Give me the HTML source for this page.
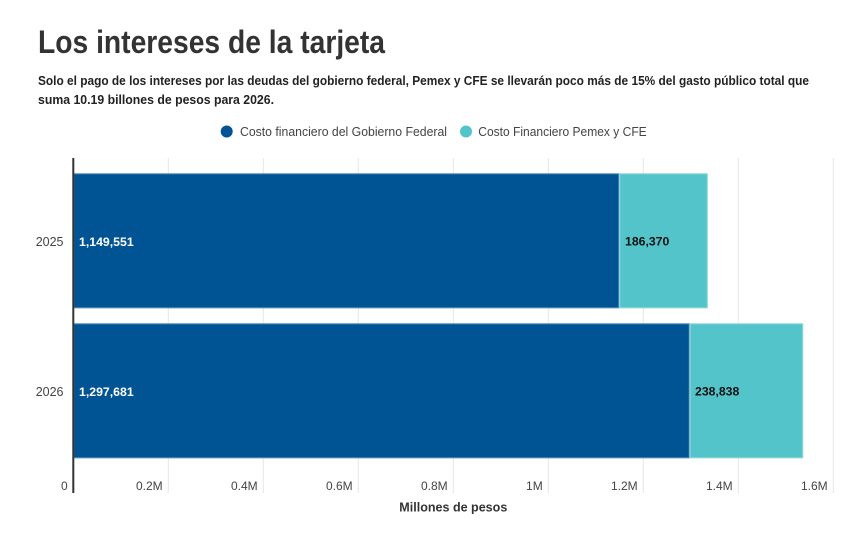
<!DOCTYPE html>
<html>
<head>
<meta charset="utf-8">
<style>
html,body{margin:0;padding:0;background:#fff;}
svg{display:block;}
text{font-family:"Liberation Sans",Arial,sans-serif;}
</style>
</head>
<body>
<svg width="847" height="542" viewBox="0 0 847 542" xmlns="http://www.w3.org/2000/svg">
  <rect width="847" height="542" fill="#fff"/>
  <!-- Title -->
  <text x="38" y="53" font-size="32" font-weight="bold" fill="#333" textLength="347" lengthAdjust="spacingAndGlyphs">Los intereses de la tarjeta</text>
  <!-- Subtitle -->
  <text x="38" y="85" font-size="12.5" font-weight="bold" fill="#222" textLength="771" lengthAdjust="spacingAndGlyphs">Solo el pago de los intereses por las deudas del gobierno federal, Pemex y CFE se llevarán poco más de 15% del gasto público total que</text>
  <text x="38" y="104" font-size="12.5" font-weight="bold" fill="#222" textLength="236" lengthAdjust="spacingAndGlyphs">suma 10.19 billones de pesos para 2026.</text>
  <!-- Legend -->
  <circle cx="226.7" cy="131.5" r="6" fill="#015494"/>
  <text x="240" y="136" font-size="13" fill="#444" textLength="207" lengthAdjust="spacingAndGlyphs">Costo financiero del Gobierno Federal</text>
  <circle cx="466" cy="131.5" r="6" fill="#54c4cb"/>
  <text x="478.3" y="136" font-size="13" fill="#444" textLength="168.4" lengthAdjust="spacingAndGlyphs">Costo Financiero Pemex y CFE</text>
  <!-- Gridlines -->
  <g stroke="#e6e6e6" stroke-width="1">
    <line x1="168.3" y1="158" x2="168.3" y2="493"/>
    <line x1="263.3" y1="158" x2="263.3" y2="493"/>
    <line x1="358.3" y1="158" x2="358.3" y2="493"/>
    <line x1="453.3" y1="158" x2="453.3" y2="493"/>
    <line x1="548.3" y1="158" x2="548.3" y2="493"/>
    <line x1="643.3" y1="158" x2="643.3" y2="493"/>
    <line x1="738.3" y1="158" x2="738.3" y2="493"/>
    <line x1="833.3" y1="158" x2="833.3" y2="493"/>
  </g>
  <!-- Bars 2025 -->
  <rect x="73.3" y="173.3" width="546" height="135" fill="#015494"/>
  <rect x="619.3" y="173.3" width="88.5" height="135" fill="#54c4cb"/>
  <!-- Bars 2026 -->
  <rect x="73.3" y="323.3" width="616.4" height="135" fill="#015494"/>
  <rect x="689.7" y="323.3" width="113.5" height="135" fill="#54c4cb"/>
  <!-- bar outlines (subtle) -->
  <g fill="none" stroke="#ffffff" stroke-opacity="0.35" stroke-width="1">
    <rect x="73.8" y="173.8" width="545" height="134"/>
    <rect x="619.8" y="173.8" width="87.5" height="134"/>
    <rect x="73.8" y="323.8" width="615.4" height="134"/>
    <rect x="690.2" y="323.8" width="112.5" height="134"/>
  </g>
  <!-- Axis line -->
  <line x1="73.3" y1="158" x2="73.3" y2="493" stroke="#333" stroke-width="2"/>
  <!-- Bar labels -->
  <text x="79" y="246" font-size="12" font-weight="bold" fill="#fff" textLength="54.7" lengthAdjust="spacingAndGlyphs">1,149,551</text>
  <text x="625" y="245.5" font-size="12" font-weight="bold" fill="#111" textLength="44.3" lengthAdjust="spacingAndGlyphs">186,370</text>
  <text x="79" y="396" font-size="12" font-weight="bold" fill="#fff" textLength="54.7" lengthAdjust="spacingAndGlyphs">1,297,681</text>
  <text x="695" y="395.5" font-size="12" font-weight="bold" fill="#111" textLength="44.3" lengthAdjust="spacingAndGlyphs">238,838</text>
  <!-- Y labels -->
  <text x="63.5" y="246" font-size="12.5" fill="#444" text-anchor="end">2025</text>
  <text x="63.5" y="396" font-size="12.5" fill="#444" text-anchor="end">2026</text>
  <!-- X tick labels -->
  <g font-size="12" fill="#444" text-anchor="end">
    <text x="67.7" y="490">0</text>
    <text x="162.7" y="490">0.2M</text>
    <text x="257.7" y="490">0.4M</text>
    <text x="352.7" y="490">0.6M</text>
    <text x="447.7" y="490">0.8M</text>
    <text x="542.7" y="490">1M</text>
    <text x="637.7" y="490">1.2M</text>
    <text x="732.7" y="490">1.4M</text>
    <text x="827.7" y="490">1.6M</text>
  </g>
  <!-- X axis title -->
  <text x="399.3" y="511.5" font-size="12.5" font-weight="bold" fill="#333" textLength="108" lengthAdjust="spacingAndGlyphs">Millones de pesos</text>
</svg>
</body>
</html>
